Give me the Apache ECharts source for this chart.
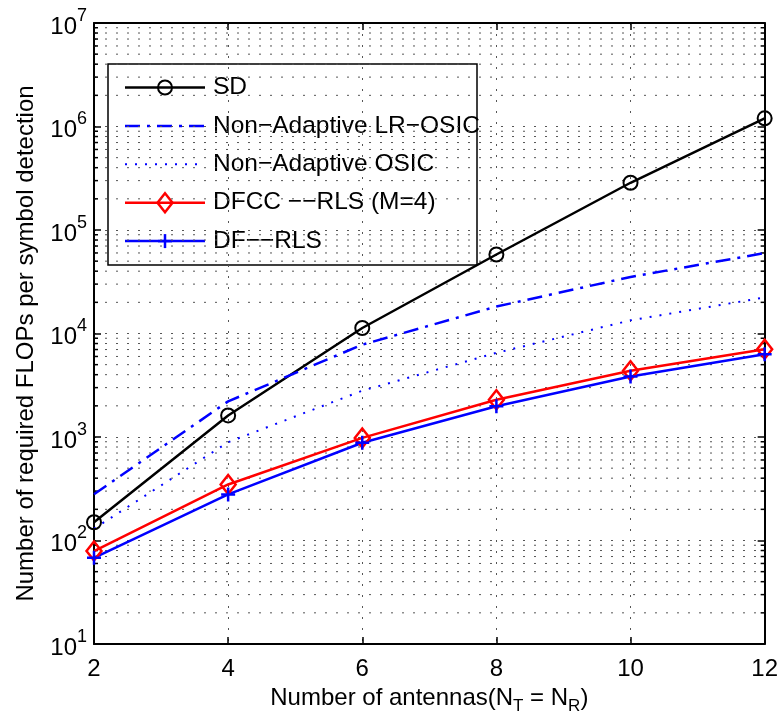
<!DOCTYPE html>
<html><head><meta charset="utf-8">
<script src="https://cdn.jsdelivr.net/npm/echarts@6/dist/echarts.min.js"></script>
<style>html,body{margin:0;padding:0;background:#fff}#chart{width:781px;height:720px}</style>
</head><body><div id="chart"></div>
<script>
// ---- data ----
const antennas = [2, 4, 6, 8, 10, 12];
const sdFlops = [150, 1615, 11300, 58000, 286000, 1200000];
const lrOsicFlops = [280, 2210, 7800, 18200, 35200, 59800];
const osicFlops = [130, 890, 2800, 6500, 13400, 22300];
const dfccFlops = [79, 348, 980, 2290, 4370, 7060];
const dfRlsFlops = [68, 279, 880, 1980, 3840, 6300];
const seriesNames = ['SD', 'Non\u2212Adaptive LR\u2212OSIC', 'Non\u2212Adaptive OSIC', 'DFCC \u2212\u2212RLS (M=4)', 'DF\u2212\u2212RLS'];
const xTickLabels = ['2', '4', '6', '8', '10', '12'];
const yMinorTicks = [20,30,40,50,60,70,80,90,
  200,300,400,500,600,700,800,900,
  2000,3000,4000,5000,6000,7000,8000,9000,
  20000,30000,40000,50000,60000,70000,80000,90000,
  200000,300000,400000,500000,600000,700000,800000,900000,
  2000000,3000000,4000000,5000000,6000000,7000000,8000000,9000000];

const FONT = "'Liberation Sans', Arial, Helvetica, sans-serif";
const BLUE = '#0000ff', RED = '#ff0000', BLACK = '#000000';
const gridDot = { color: '#555', width: 1, type: [2, 9] };
const pair = (ys) => antennas.map((x, i) => [x, ys[i]]);

const chart = echarts.init(document.getElementById('chart'), null, { renderer: 'canvas' });

// legend drawn as graphic
const LG = { x: 108, y: 64, w: 369, h: 201, y0: 87.5, dy: 38.4, lx0: 125, lx1: 205, mx: 165, tx: 213 };
const legendChildren = [{
  type: 'rect', shape: { x: LG.x, y: LG.y, width: LG.w, height: LG.h },
  style: { fill: '#fff', stroke: BLACK, lineWidth: 1.5 }
}];
const legendStyles = [
  { stroke: BLACK, lineWidth: 2.5 },
  { stroke: BLUE, lineWidth: 2.5, lineDash: [15, 7, 3, 7] },
  { stroke: BLUE, lineWidth: 2, lineDash: [2, 8] },
  { stroke: RED, lineWidth: 2.5 },
  { stroke: BLUE, lineWidth: 2.5 }
];
seriesNames.forEach((nm, i) => {
  const y = LG.y0 + i * LG.dy;
  legendChildren.push({ type: 'line', shape: { x1: LG.lx0, y1: y, x2: LG.lx1, y2: y }, style: legendStyles[i] });
  if (i === 0) legendChildren.push({ type: 'circle', shape: { cx: LG.mx, cy: y, r: 7 }, style: { fill: 'none', stroke: BLACK, lineWidth: 2 } });
  if (i === 3) legendChildren.push({ type: 'polygon', shape: { points: [[LG.mx, y - 9.5], [LG.mx + 7.5, y], [LG.mx, y + 9.5], [LG.mx - 7.5, y]] }, style: { fill: 'none', stroke: RED, lineWidth: 2.5 } });
  if (i === 4) {
    legendChildren.push({ type: 'line', shape: { x1: LG.mx - 7, y1: y, x2: LG.mx + 7, y2: y }, style: { stroke: BLUE, lineWidth: 2.5 } });
    legendChildren.push({ type: 'line', shape: { x1: LG.mx, y1: y - 7, x2: LG.mx, y2: y + 7 }, style: { stroke: BLUE, lineWidth: 2.5 } });
  }
  legendChildren.push({ type: 'text', x: LG.tx, y: y, style: { text: nm, font: "24.5px " + FONT, fill: BLACK, verticalAlign: 'middle', align: 'left' } });
});

const axisCommon = {
  axisLine: { show: true, onZero: false, lineStyle: { color: BLACK, width: 2 } },
  axisTick: { show: true, inside: true, length: 7, lineStyle: { color: BLACK, width: 1.5 } }
};

const option = {
  backgroundColor: '#fff',
  animation: false,
  textStyle: { fontFamily: FONT },
  grid: { left: 94, right: 16, top: 23, bottom: 70, containLabel: false },
  xAxis: [{
    type: 'value', min: 2, max: 12, interval: 2, position: 'bottom',
    ...axisCommon,
    splitLine: { show: true, lineStyle: gridDot },
    axisLabel: { fontSize: 24, color: BLACK, margin: 13, fontFamily: FONT,
      formatter: (v) => xTickLabels[antennas.indexOf(v)] ?? String(v) },
    name: '{n|Number of antennas(N}{s|T}{n| = N}{s|R}{n|)}',
    nameLocation: 'middle', nameGap: 42,
    nameTextStyle: { color: BLACK, fontFamily: FONT, rich: {
      n: { fontSize: 24, color: BLACK, fontFamily: FONT, verticalAlign: 'top' },
      s: { fontSize: 17, color: BLACK, fontFamily: FONT, verticalAlign: 'top', padding: [12, 0, 0, 0] }
    } }
  }, {
    type: 'value', min: 2, max: 12, interval: 2, position: 'top',
    ...axisCommon,
    splitLine: { show: false }, axisLabel: { show: false }
  }],
  yAxis: [{
    type: 'log', logBase: 10, min: 10, max: 10000000, splitNumber: 6, position: 'left',
    ...axisCommon,
    splitLine: { show: true, lineStyle: gridDot },
    axisLabel: { color: BLACK, margin: 7, fontFamily: FONT,
      formatter: (v) => '{b|10}{e|' + Math.round(Math.log10(v)) + '}',
      rich: {
        b: { fontSize: 24, color: BLACK, fontFamily: FONT, verticalAlign: 'top', padding: [8, 0, 0, 0] },
        e: { fontSize: 18, color: BLACK, fontFamily: FONT, verticalAlign: 'top' }
      } },
    name: 'Number of required FLOPs per symbol detection',
    nameLocation: 'middle', nameGap: 56, nameRotate: 90,
    nameTextStyle: { fontSize: 24, color: BLACK, fontFamily: FONT, padding: [0, 20, 0, 0] }
  }, {
    type: 'log', logBase: 10, min: 10, max: 10000000, splitNumber: 6, position: 'right',
    ...axisCommon,
    splitLine: { show: false }, axisLabel: { show: false }
  }],
  graphic: [{ type: 'group', z: 100, children: legendChildren }],
  series: [
    {
      type: 'custom', name: 'minor', z: 1, silent: true, clip: false,
      data: yMinorTicks.map(v => [v]),
      encode: { y: 0 },
      renderItem: (params, api) => {
        const v = api.value(0);
        const pL = api.coord([2, v]);
        const pR = api.coord([12, v]);
        return { type: 'group', children: [
          { type: 'line', shape: { x1: pL[0], y1: pL[1], x2: pR[0], y2: pR[1] }, style: { stroke: gridDot.color, lineWidth: 1, lineDash: [2, 9] } },
          { type: 'line', shape: { x1: pL[0], y1: pL[1], x2: pL[0] + 4, y2: pL[1] }, style: { stroke: BLACK, lineWidth: 1.5 } },
          { type: 'line', shape: { x1: pR[0] - 4, y1: pR[1], x2: pR[0], y2: pR[1] }, style: { stroke: BLACK, lineWidth: 1.5 } }
        ] };
      }
    },
    {
      type: 'line', name: seriesNames[0], data: pair(sdFlops), z: 3,
      symbol: 'circle', symbolSize: 14, showSymbol: true,
      lineStyle: { color: BLACK, width: 2.5 },
      itemStyle: { color: 'rgba(0,0,0,0)', borderColor: BLACK, borderWidth: 2 },
      emphasis: { disabled: true }
    },
    {
      type: 'line', name: seriesNames[1], data: pair(lrOsicFlops), z: 3,
      symbol: 'none', lineStyle: { color: BLUE, width: 2.5, type: [15, 7, 3, 7] },
      itemStyle: { color: BLUE }, emphasis: { disabled: true }
    },
    {
      type: 'line', name: seriesNames[2], data: pair(osicFlops), z: 3,
      symbol: 'none', lineStyle: { color: BLUE, width: 2, type: [2, 8] },
      itemStyle: { color: BLUE }, emphasis: { disabled: true }
    },
    {
      type: 'line', name: seriesNames[3], data: pair(dfccFlops), z: 3,
      symbol: 'diamond', symbolSize: [15, 19], showSymbol: true,
      lineStyle: { color: RED, width: 2.5 },
      itemStyle: { color: 'rgba(0,0,0,0)', borderColor: RED, borderWidth: 2.5 },
      emphasis: { disabled: true }
    },
    {
      type: 'line', name: seriesNames[4], data: pair(dfRlsFlops), z: 3,
      symbol: 'path://M7,0L7,14M0,7L14,7', symbolSize: 14, showSymbol: true,
      lineStyle: { color: BLUE, width: 2.5 },
      itemStyle: { color: 'none', borderColor: BLUE, borderWidth: 2.5 },
      emphasis: { disabled: true }
    }
  ]
};
chart.setOption(option);
</script></body></html>
